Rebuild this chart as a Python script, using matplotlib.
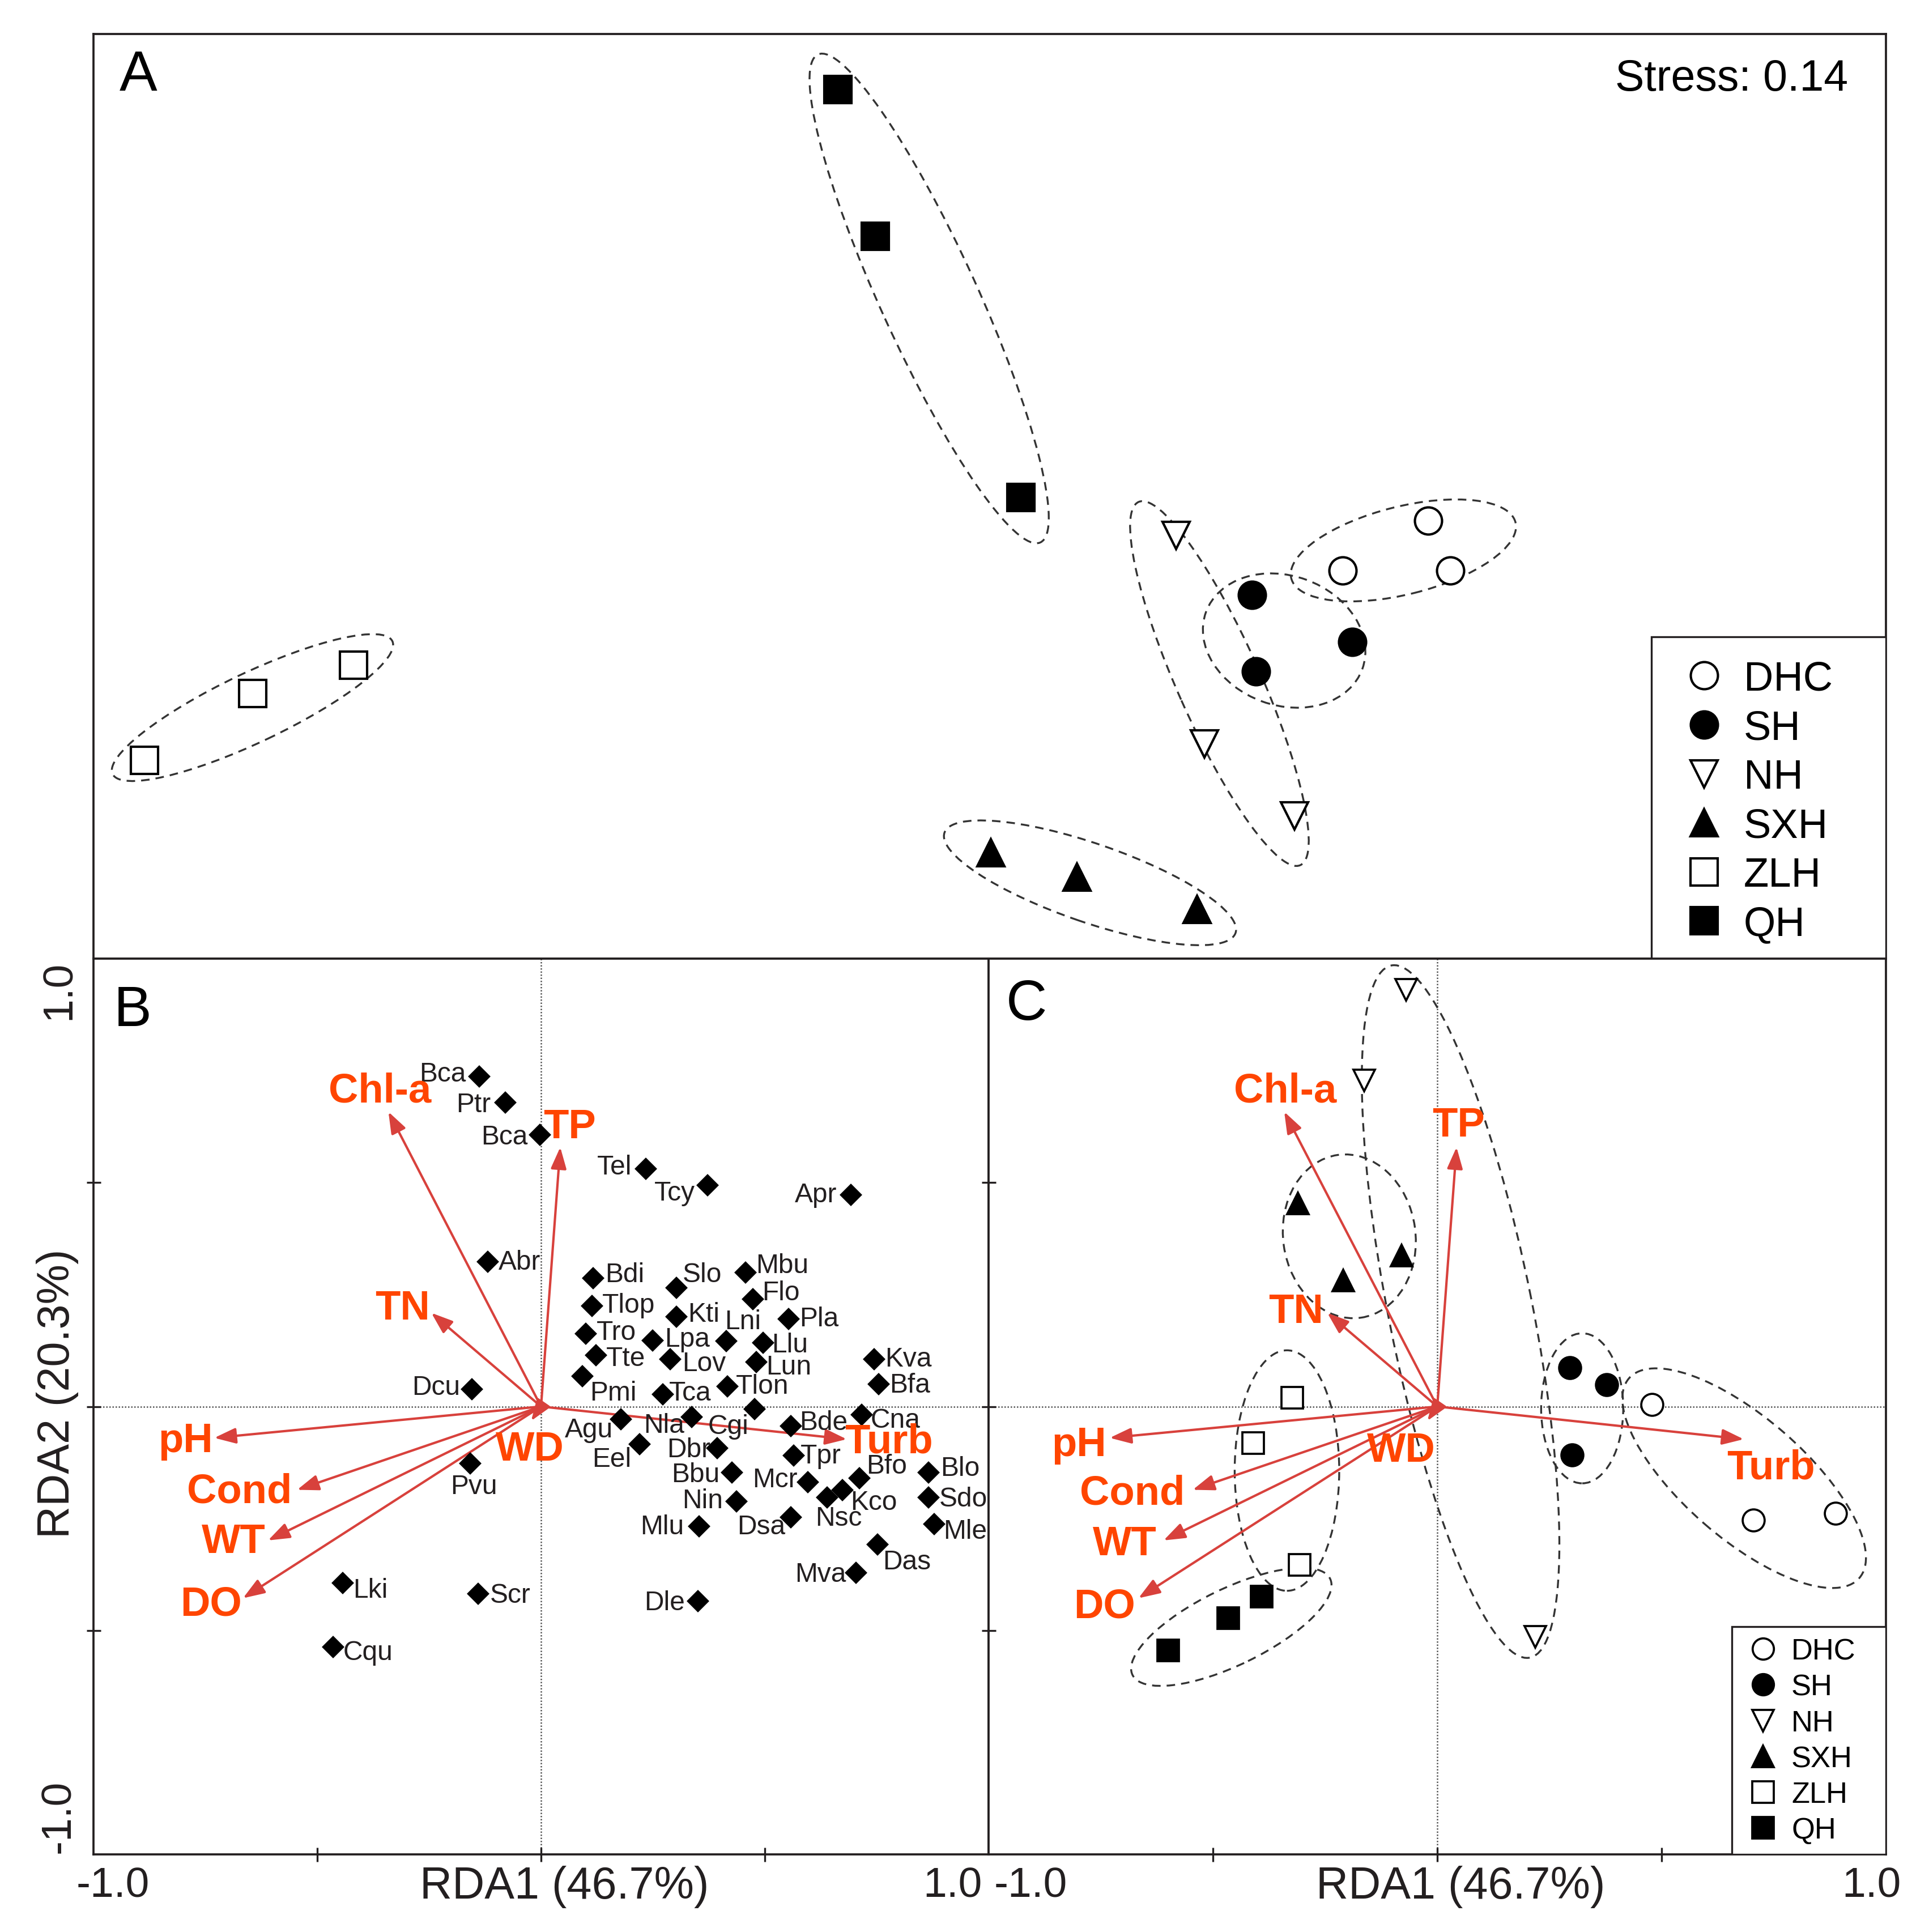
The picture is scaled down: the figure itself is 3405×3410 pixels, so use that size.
import matplotlib
matplotlib.use('Agg')
import matplotlib.pyplot as plt
from matplotlib.patches import Ellipse, Rectangle
from matplotlib.lines import Line2D

plt.rcParams['font.family'] = ['Liberation Sans', 'DejaVu Sans']

# ---------------- data ----------------
groups = ['DHC', 'SH', 'NH', 'SXH', 'ZLH', 'QH']

# Panel A: NMDS site scores
nmds_x = {'DHC': [0.949, 0.763, 0.997], 'SH': [0.568, 0.784, 0.576],
          'NH': [0.403, 0.464, 0.659], 'SXH': [0.003, 0.189, 0.448],
          'ZLH': [-1.829, -1.595, -1.376], 'QH': [-0.328, -0.248, 0.067]}
nmds_y = {'DHC': [-0.053, -0.160, -0.160], 'SH': [-0.213, -0.315, -0.379],
          'NH': [-0.085, -0.536, -0.691], 'SXH': [-0.771, -0.824, -0.893],
          'ZLH': [-0.571, -0.427, -0.365], 'QH': [0.880, 0.563, -0.003]}
# group ellipses: centre x, centre y, length, width, angle
nmds_ell = {'DHC': (0.895, -0.117, 0.50, 0.19, 14),
            'SH': (0.637, -0.312, 0.36, 0.28, -20),
            'NH': (0.497, -0.405, 0.86, 0.18, -66),
            'SXH': (0.217, -0.836, 0.666, 0.17, -19),
            'ZLH': (-1.595, -0.457, 0.67, 0.15, 25.4),
            'QH': (-0.131, 0.428, 1.16, 0.21, -65.5)}
stress = 0.14

# RDA environmental vectors
env_names = ['Chl-a', 'TP', 'TN', 'pH', 'Cond', 'WT', 'DO', 'WD', 'Turb']
env_x = [-0.341, 0.043, -0.245, -0.730, -0.545, -0.610, -0.666, -0.022, 0.683]
env_y = [0.658, 0.579, 0.209, -0.070, -0.186, -0.299, -0.428, -0.032, -0.073]
envlab_B_x = [-0.360, 0.064, -0.310, -0.794, -0.674, -0.687, -0.737, -0.025, 0.777]
envlab_B_y = [0.704, 0.624, 0.219, -0.076, -0.190, -0.302, -0.441, -0.096, -0.078]
envlab_C_x = [-0.339, 0.047, -0.315, -0.799, -0.680, -0.696, -0.742, -0.080, 0.744]
envlab_C_y = [0.704, 0.628, 0.212, -0.086, -0.193, -0.307, -0.447, -0.098, -0.137]

# RDA species scores
species = ['Bca', 'Ptr', 'Bca', 'Abr', 'Dcu', 'Pvu', 'Lki', 'Scr', 'Cqu', 'Dle',
           'Tel', 'Tcy', 'Apr', 'Bdi', 'Slo', 'Mbu', 'Tlop', 'Flo', 'Kti', 'Lni',
           'Pla', 'Tro', 'Lpa', 'Llu', 'Tte', 'Lov', 'Lun', 'Kva', 'Pmi', 'Tca',
           'Tlon', 'Bfa', 'Agu', 'Nla', 'Cgi', 'Bde', 'Cna', 'Eel', 'Dbr', 'Tpr',
           'Bbu', 'Blo', 'Bfo', 'Mcr', 'Kco', 'Nsc', 'Sdo', 'Nin', 'Mlu', 'Dsa',
           'Mle', 'Das', 'Mva']
sp_x = [-0.138, -0.080, -0.003, -0.119, -0.154, -0.158, -0.443, -0.140, -0.465, 0.351,
        0.234, 0.372, 0.693, 0.117, 0.302, 0.457, 0.114, 0.473, 0.302, 0.414,
        0.553, 0.100, 0.249, 0.496, 0.123, 0.289, 0.481, 0.744, 0.093, 0.272,
        0.417, 0.755, 0.179, 0.337, 0.477, 0.558, 0.717, 0.220, 0.394, 0.565,
        0.426, 0.866, 0.712, 0.596, 0.674, 0.639, 0.866, 0.437, 0.353, 0.558,
        0.879, 0.752, 0.704]
sp_y = [0.737, 0.679, 0.607, 0.323, 0.038, -0.127, -0.394, -0.418, -0.537, -0.435,
        0.531, 0.494, 0.473, 0.286, 0.265, 0.299, 0.224, 0.240, 0.201, 0.146,
        0.196, 0.162, 0.148, 0.142, 0.114, 0.105, 0.099, 0.105, 0.068, 0.027,
        0.045, 0.050, -0.028, -0.024, -0.006, -0.044, -0.018, -0.084, -0.093, -0.110,
        -0.148, -0.147, -0.160, -0.169, -0.186, -0.203, -0.203, -0.212, -0.267, -0.247,
        -0.263, -0.308, -0.371]
# label offsets (points) relative to each species marker
sp_lab_off = [(-15.5, 1.1), (-13.5, -0.8), (-15.0, -0.9), (13.4, 0), (-15.3, 0.9),
              (1.4, -9.7), (11.7, -2.9), (13.4, -0.5), (14.9, -2.3), (-14.1, -0.4),
              (-13.3, 0.7), (-13.9, -3.3), (-15.0, 0), (13.3, 1.7), (11.0, 5.6),
              (15.6, 3.0), (15.6, 0.4), (12.0, 2.6), (11.7, 0.9), (6.9, 8.3),
              (13.0, 0), (13.0, 0.8), (14.7, 0.4), (11.4, -0.9), (12.6, -1.3),
              (14.3, -1.7), (13.7, -2.0), (14.6, 0.3), (13.0, -7.2), (11.7, 0.7),
              (14.7, 0), (13.0, -0.4), (-13.7, -4.6), (-11.7, -3.3), (-11.0, -7.2),
              (14.0, 1.7), (14.3, -2.3), (-11.7, -6.5), (-12.1, -0.7), (11.3, 0),
              (-15.2, -0.7), (13.4, 1.7), (11.4, 5.2), (-14.0, 1.0), (13.1, -5.2),
              (4.9, -8.8), (14.7, -0.7), (-14.4, 0.4), (-15.6, -0.3), (-12.5, -3.9),
              (13.0, -2.9), (12.4, -7.4), (-15.0, -0.7)]

# RDA site scores (panel C)
site_x = {'DHC': [0.478, 0.705, 0.887], 'SH': [0.295, 0.378, 0.300],
          'NH': [-0.070, -0.163, 0.218], 'SXH': [-0.310, -0.080, -0.210],
          'ZLH': [-0.323, -0.410, -0.307], 'QH': [-0.392, -0.466, -0.600]}
site_y = {'DHC': [0.004, -0.254, -0.238], 'SH': [0.087, 0.049, -0.108],
          'NH': [0.930, 0.728, -0.514], 'SXH': [0.454, 0.337, 0.281],
          'ZLH': [0.019, -0.082, -0.353], 'QH': [-0.425, -0.473, -0.545]}
rda_ell = {'DHC': (0.684, -0.160, 0.68, 0.27, -41),
           'SH': (0.323, -0.004, 0.183, 0.335, 0),
           'NH': (0.052, 0.212, 1.576, 0.32, 101.3),
           'SXH': (-0.196, 0.380, 0.295, 0.367, 8),
           'ZLH': (-0.335, -0.143, 0.233, 0.537, 0),
           'QH': (-0.459, -0.492, 0.49, 0.17, 26)}

# ---------------- styles ----------------
mstyle = {'DHC': dict(marker='o', mfc='white', mec='black'),
          'SH': dict(marker='o', mfc='black', mec='black'),
          'NH': dict(marker='v', mfc='white', mec='black'),
          'SXH': dict(marker='^', mfc='black', mec='black'),
          'ZLH': dict(marker='s', mfc='white', mec='black'),
          'QH': dict(marker='s', mfc='black', mec='black')}
arrow_col = '#D8413C'
lab_col = '#FF4500'
txt_col = '#231F20'
dash = (0, (4.5, 3.2))

W, H = 3405, 3411
fig = plt.figure(figsize=(W / 300, H / 300), dpi=300)

def frac(x0, y0, x1, y1):
    return [x0 / W, 1 - y1 / H, (x1 - x0) / W, (y1 - y0) / H]

axA = fig.add_axes(frac(165, 61, 3329, 1693))
axB = fig.add_axes(frac(165, 1693, 1745, 3274))
axC = fig.add_axes(frac(1745, 1693, 3329, 3274))

for ax in (axA, axB, axC):
    for s in ax.spines.values():
        s.set_linewidth(0.9)
        s.set_color('#231F20')

# ---------- Panel A ----------
axA.set_xlim(-1.939, 1.939)
axA.set_ylim(-1, 1)
axA.set_xticks([])
axA.set_yticks([])
for g in groups:
    axA.plot(nmds_x[g], nmds_y[g], ls='none', ms=11.5, mew=1.0, **mstyle[g])
    cx, cy, L, Wd, ang = nmds_ell[g]
    axA.add_patch(Ellipse((cx, cy), L, Wd, angle=ang, fill=False,
                          ls=dash, lw=0.8, ec='#333333'))
axA.text(0.0249, 0.955, 'A', transform=axA.transAxes, fontsize=24,
         ha='center', va='center', color='black')
axA.text(0.979, 0.952, f'Stress: {stress:.2f}', transform=axA.transAxes,
         fontsize=18.5, ha='right', va='center', color='black')
axA.add_patch(Rectangle((0.869, 0.0), 0.131, 0.348, transform=axA.transAxes,
                        fc='white', ec='#231F20', lw=0.8, zorder=8))
handlesA = [Line2D([], [], ls='none', ms=11.5, mew=1.0, **mstyle[g]) for g in groups]
legA = axA.legend(handlesA, groups, loc='center left', bbox_to_anchor=(0.8895, 0.1693),
                  borderaxespad=0, fontsize=17.4, frameon=False, handlelength=0.8,
                  handletextpad=0.56, labelspacing=0.27, borderpad=0)
legA.set_zorder(9)

# ---------- Panels B and C common ----------
def rda_axes(ax):
    ax.set_xlim(-1, 1)
    ax.set_ylim(-1, 1)
    ax.set_xticks([-0.5, 0, 0.5])
    ax.set_yticks([-0.5, 0, 0.5])
    ax.set_xticklabels([])
    ax.set_yticklabels([])
    ax.tick_params(direction='inout', length=6, width=0.8, color='#231F20')
    ax.axhline(0, color='#555555', lw=0.6, ls=(0, (1, 1.2)), zorder=0)
    ax.axvline(0, color='#555555', lw=0.6, ls=(0, (1, 1.2)), zorder=0)
    for ex, ey in zip(env_x, env_y):
        ax.annotate('', xy=(ex, ey), xytext=(0, 0),
                    arrowprops=dict(arrowstyle='-|>,head_length=0.55,head_width=0.2',
                                    color=arrow_col, lw=1.0, shrinkA=0, shrinkB=0,
                                    mutation_scale=14), zorder=3)
    ax.text(0.526, -0.036, 'RDA1 (46.7%)', transform=ax.transAxes, fontsize=19,
            ha='center', va='center', color=txt_col)

rda_axes(axB)
rda_axes(axC)

# Panel B species
axB.plot(sp_x, sp_y, ls='none', marker='D', ms=5.8, color='black', zorder=4)
for name, x, y, (dx, dy) in zip(species, sp_x, sp_y, sp_lab_off):
    axB.annotate(name, (x, y), xytext=(dx, dy), textcoords='offset points',
                 ha='center', va='center', fontsize=11.5, color=txt_col, zorder=5)
for name, lx, ly in zip(env_names, envlab_B_x, envlab_B_y):
    axB.text(lx, ly, name, color=lab_col, fontsize=17.4, fontweight='bold',
             ha='center', va='center', zorder=6)
axB.text(0.044, 0.942, 'B', transform=axB.transAxes, fontsize=24,
         ha='center', va='center', color='black')

# tick labels & y-label
axB.text(-0.019, -0.035, '-1.0', transform=axB.transAxes, fontsize=18,
         ha='left', va='center', color=txt_col)
axB.text(0.993, -0.035, '1.0', transform=axB.transAxes, fontsize=18,
         ha='right', va='center', color=txt_col)
axC.text(0.006, -0.035, '-1.0', transform=axC.transAxes, fontsize=18,
         ha='left', va='center', color=txt_col)
axC.text(1.017, -0.035, '1.0', transform=axC.transAxes, fontsize=18,
         ha='right', va='center', color=txt_col)
axB.text(-0.0386, 0.998, '1.0', transform=axB.transAxes, fontsize=18,
         ha='center', va='top', rotation=90, color=txt_col)
axB.text(-0.0386, 0.002, '-1.0', transform=axB.transAxes, fontsize=18,
         ha='center', va='bottom', rotation=90, color=txt_col)
axB.text(-0.040, 0.515, 'RDA2 (20.3%)', transform=axB.transAxes, fontsize=19,
         ha='center', va='center', rotation=90, color=txt_col)

# Panel C sites
for g in groups:
    axC.plot(site_x[g], site_y[g], ls='none', ms=9.3, mew=0.9, zorder=4, **mstyle[g])
    cx, cy, L, Wd, ang = rda_ell[g]
    axC.add_patch(Ellipse((cx, cy), L, Wd, angle=ang, fill=False,
                          ls=dash, lw=0.8, ec='#333333', zorder=2))
for name, lx, ly in zip(env_names, envlab_C_x, envlab_C_y):
    axC.text(lx, ly, name, color=lab_col, fontsize=17.4, fontweight='bold',
             ha='center', va='center', zorder=6)
axC.text(0.042, 0.949, 'C', transform=axC.transAxes, fontsize=24,
         ha='center', va='center', color='black')
axC.add_patch(Rectangle((0.828, 0.0), 0.172, 0.2545, transform=axC.transAxes,
                        fc='white', ec='#231F20', lw=0.8, zorder=8))
handlesC = [Line2D([], [], ls='none', ms=9, mew=0.9, **mstyle[g]) for g in groups]
legC = axC.legend(handlesC, groups, loc='center left', bbox_to_anchor=(0.8495, 0.1265),
                  borderaxespad=0, fontsize=12.6, frameon=False, handlelength=0.8,
                  handletextpad=0.56, labelspacing=0.27, borderpad=0)
legC.set_zorder(9)

fig.savefig('out.png', dpi=300, facecolor='white')
